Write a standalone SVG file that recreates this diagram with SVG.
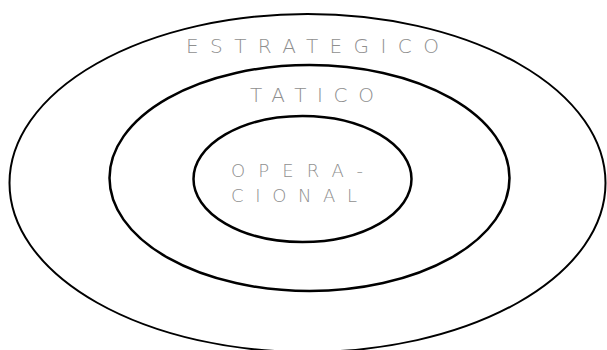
<svg xmlns="http://www.w3.org/2000/svg" width="607" height="350" viewBox="0 0 607 350">
<style>
.ring{fill:none;stroke:#000}
.lbl{font-family:"DejaVu Sans","Liberation Sans",sans-serif;fill:#8f8f8f;font-weight:200}
</style>
<rect width="607" height="350" fill="#fff"/>
<g id="estrategico">
<ellipse class="ring" cx="307.5" cy="183" rx="298" ry="169" stroke-width="2"/>
<text class="lbl" x="186" y="52.5" font-size="20" textLength="253" lengthAdjust="spacing">ESTRATEGICO</text>
</g>
<g id="tatico">
<ellipse class="ring" cx="309.5" cy="178" rx="200" ry="113" stroke-width="2.5"/>
<text class="lbl" x="250" y="101.7" font-size="20" textLength="124" lengthAdjust="spacing">TATICO</text>
</g>
<g id="operacional">
<ellipse class="ring" cx="302.5" cy="179" rx="109" ry="63" stroke-width="2.5"/>
<text class="lbl" x="231" y="176.7" font-size="18" textLength="132" lengthAdjust="spacing">OPERA-</text>
<text class="lbl" x="231" y="201.7" font-size="18" textLength="126" lengthAdjust="spacing">CIONAL</text>
</g>
</svg>
